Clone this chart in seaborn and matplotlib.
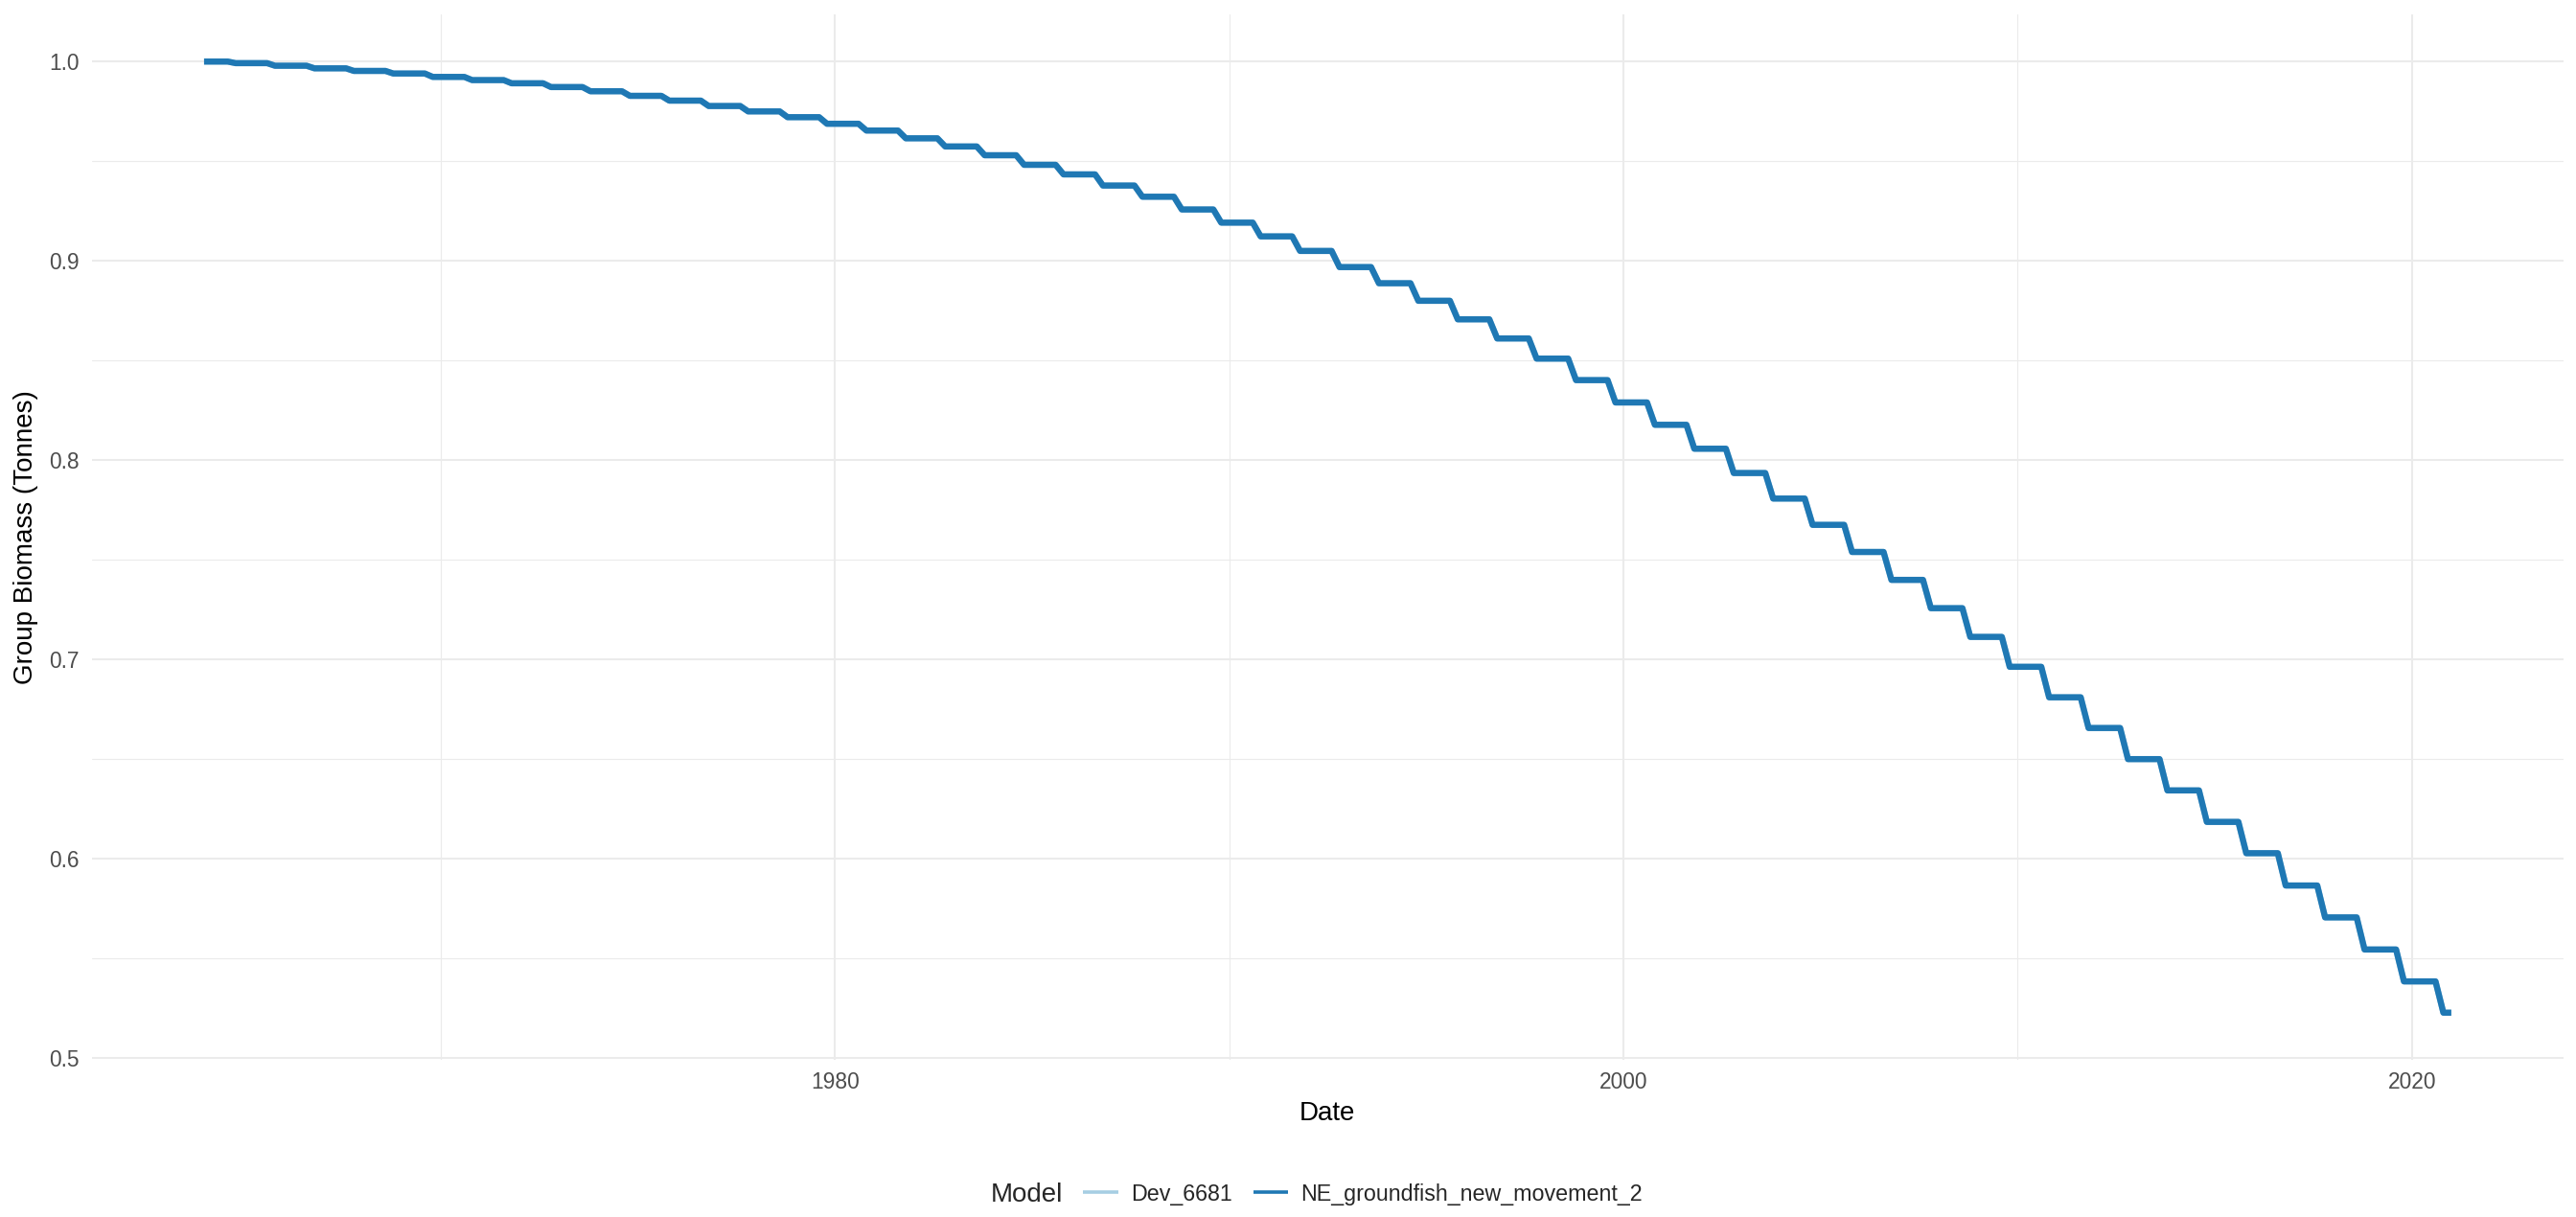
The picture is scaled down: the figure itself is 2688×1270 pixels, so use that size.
import pandas as pd
import seaborn as sns
import matplotlib.pyplot as plt
from matplotlib.lines import Line2D

years = list(range(1964, 2022))

dev_biomass = [1.0000, 0.9992, 0.9979, 0.9966, 0.9953, 0.9940, 0.9923, 0.9907, 0.9891, 0.9872,
               0.9851, 0.9828, 0.9804, 0.9777, 0.9750, 0.9721, 0.9688, 0.9654, 0.9615, 0.9574,
               0.9530, 0.9482, 0.9434, 0.9378, 0.9322, 0.9258, 0.9192, 0.9123, 0.9050, 0.8969,
               0.8888, 0.8800, 0.8707, 0.8611, 0.8510, 0.8402, 0.8290, 0.8178, 0.8058, 0.7936,
               0.7808, 0.7676, 0.7540, 0.7400, 0.7258, 0.7114, 0.6964, 0.6811, 0.6657, 0.6501,
               0.6344, 0.6186, 0.6029, 0.5867, 0.5707, 0.5546, 0.5386, 0.5229]
ne_biomass = list(dev_biomass)

models = ["Dev_6681", "NE_groundfish_new_movement_2"]
model_colors = ["#A6CEE3", "#1F78B4"]

x_major = [1980, 2000, 2020]
x_minor = [1970, 1990, 2010]
y_major = [0.5, 0.6, 0.7, 0.8, 0.9, 1.0]
y_minor = [0.55, 0.65, 0.75, 0.85, 0.95]

# model output is on 73-day steps: each annual value holds from 0.2 yr before
# the year start to 0.6 yr into it, then steps down to the next value
rows = []
for model, vals in zip(models, [dev_biomass, ne_biomass]):
    for y, v in zip(years, vals):
        for t in (y - 0.2, y + 0.6):
            t = min(max(t, years[0]), years[-1])
            rows.append((model, t, v))
df = pd.DataFrame(rows, columns=["Model", "Date", "Biomass"])

sns.set_style("white")
plt.rcParams['font.family'] = ['Liberation Sans', 'DejaVu Sans']

fig = plt.figure(figsize=(13.44, 6.35), dpi=200)
ax = fig.add_axes([0.0356, 0.1288, 0.9596, 0.8597])

sns.lineplot(data=df, x="Date", y="Biomass", hue="Model", hue_order=models,
             palette=dict(zip(models, model_colors)), estimator=None,
             linewidth=2.3, solid_capstyle='butt', legend=False, ax=ax)

ax.set_xticks(x_major)
ax.set_xticks(x_minor, minor=True)
ax.set_yticks(y_major)
ax.set_yticks(y_minor, minor=True)
ax.set_xticklabels([str(v) for v in x_major])
ax.set_yticklabels(["%.1f" % v for v in y_major])
ax.grid(which='major', color='#EBEBEB', linewidth=0.75)
ax.grid(which='minor', color='#EBEBEB', linewidth=0.4)
ax.set_axisbelow(True)
for s in ax.spines.values():
    s.set_visible(False)
ax.tick_params(which='both', length=0, labelsize=8.2, labelcolor='#4D4D4D')
ax.tick_params(axis='x', pad=4.0)
ax.tick_params(axis='y', pad=4.8)

ax.set_xlabel("Date", fontsize=10, color='black', labelpad=3)
ax.set_ylabel("Group Biomass (Tonnes)", fontsize=10, color='black', labelpad=4)

handles = [Line2D([], [], color=c, linewidth=1.3, solid_capstyle='butt') for c in model_colors]
fig.text(1034 / 2688, 1 - 1247 / 1270, "Model", fontsize=10, va='center', ha='left')
fig.legend(handles, models, loc='center left', bbox_to_anchor=(1130 / 2688, 1 - 1246 / 1270),
           ncol=2, frameon=False, fontsize=8.4, handlelength=1.58, handletextpad=0.56,
           columnspacing=0.94, borderpad=0, borderaxespad=0)

fig.savefig("out.png", dpi=200, facecolor='white')
